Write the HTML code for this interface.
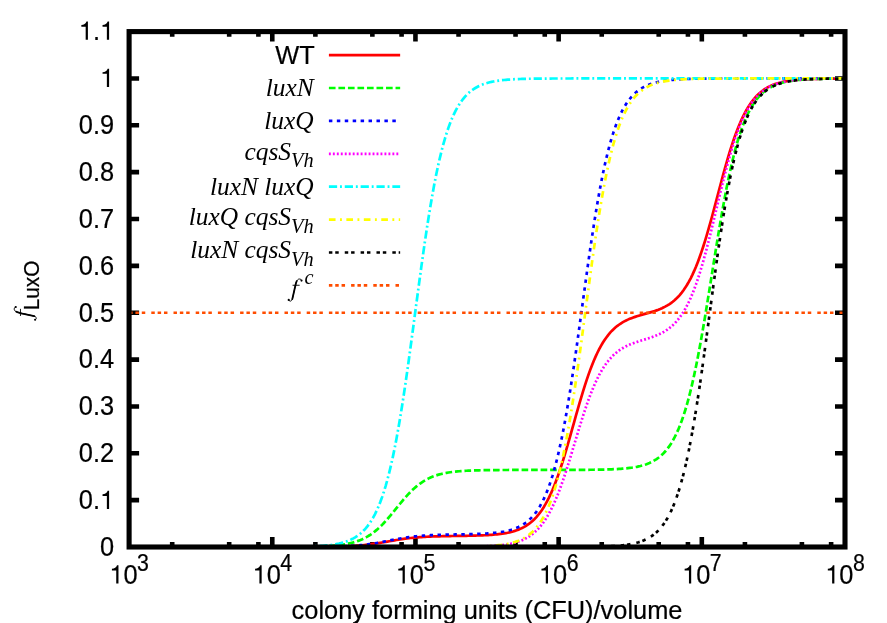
<!DOCTYPE html>
<html><head><meta charset="utf-8"><title>plot</title>
<style>
html,body{margin:0;padding:0;background:#fff;}
svg{display:block;will-change:transform;}
.s{font-family:"Liberation Sans",sans-serif;font-size:25.40px;fill:#000;stroke:#000;stroke-width:0.2px;}
.i{font-family:"Liberation Serif",serif;font-style:italic;font-size:25.40px;fill:#000;}
</style></head><body>
<svg width="887" height="623" viewBox="0 0 887 623">
<rect width="887" height="623" fill="#fff"/>
<path d="M172.20,547.00 V541.90 M172.20,31.60 V36.70 M229.18,547.00 V541.90 M229.18,31.60 V36.70 M258.40,547.00 V541.90 M258.40,31.60 V36.70 M272.28,547.00 V537.00 M272.28,31.60 V41.60 M315.38,547.00 V541.90 M315.38,31.60 V36.70 M372.36,547.00 V541.90 M372.36,31.60 V36.70 M401.58,547.00 V541.90 M401.58,31.60 V36.70 M415.46,547.00 V537.00 M415.46,31.60 V41.60 M458.56,547.00 V541.90 M458.56,31.60 V36.70 M515.54,547.00 V541.90 M515.54,31.60 V36.70 M544.76,547.00 V541.90 M544.76,31.60 V36.70 M558.64,547.00 V537.00 M558.64,31.60 V41.60 M601.74,547.00 V541.90 M601.74,31.60 V36.70 M658.72,547.00 V541.90 M658.72,31.60 V36.70 M687.94,547.00 V541.90 M687.94,31.60 V36.70 M701.82,547.00 V537.00 M701.82,31.60 V41.60 M744.92,547.00 V541.90 M744.92,31.60 V36.70 M801.90,547.00 V541.90 M801.90,31.60 V36.70 M831.12,547.00 V541.90 M831.12,31.60 V36.70 M129.10,500.15 H139.10 M845.00,500.15 H835.00 M129.10,453.29 H139.10 M845.00,453.29 H835.00 M129.10,406.44 H139.10 M845.00,406.44 H835.00 M129.10,359.58 H139.10 M845.00,359.58 H835.00 M129.10,312.73 H139.10 M845.00,312.73 H835.00 M129.10,265.87 H139.10 M845.00,265.87 H835.00 M129.10,219.02 H139.10 M845.00,219.02 H835.00 M129.10,172.16 H139.10 M845.00,172.16 H835.00 M129.10,125.31 H139.10 M845.00,125.31 H835.00 M129.10,78.45 H139.10 M845.00,78.45 H835.00" stroke="#000" stroke-width="4.6" fill="none"/>
<g fill="none" stroke-width="2.70">
<path d="M129.10,547.00 L130.89,547.00 L132.69,547.00 L134.48,547.00 L136.28,547.00 L138.07,547.00 L139.87,547.00 L141.66,547.00 L143.45,547.00 L145.25,547.00 L147.04,547.00 L148.84,547.00 L150.63,547.00 L152.43,547.00 L154.22,547.00 L156.01,547.00 L157.81,547.00 L159.60,547.00 L161.40,547.00 L163.19,547.00 L164.98,547.00 L166.78,547.00 L168.57,547.00 L170.37,547.00 L172.16,547.00 L173.96,547.00 L175.75,547.00 L177.54,547.00 L179.34,547.00 L181.13,547.00 L182.93,547.00 L184.72,547.00 L186.52,547.00 L188.31,547.00 L190.10,547.00 L191.90,547.00 L193.69,547.00 L195.49,547.00 L197.28,547.00 L199.08,547.00 L200.87,547.00 L202.66,547.00 L204.46,547.00 L206.25,547.00 L208.05,547.00 L209.84,547.00 L211.63,547.00 L213.43,547.00 L215.22,547.00 L217.02,547.00 L218.81,547.00 L220.61,547.00 L222.40,547.00 L224.19,547.00 L225.99,547.00 L227.78,547.00 L229.58,547.00 L231.37,547.00 L233.17,547.00 L234.96,547.00 L236.75,547.00 L238.55,547.00 L240.34,547.00 L242.14,547.00 L243.93,547.00 L245.73,547.00 L247.52,547.00 L249.31,547.00 L251.11,547.00 L252.90,547.00 L254.70,547.00 L256.49,547.00 L258.28,547.00 L260.08,547.00 L261.87,547.00 L263.67,547.00 L265.46,547.00 L267.26,547.00 L269.05,546.99 L270.84,546.99 L272.64,546.99 L274.43,546.99 L276.23,546.99 L278.02,546.99 L279.82,546.99 L281.61,546.99 L283.40,546.99 L285.20,546.99 L286.99,546.98 L288.79,546.98 L290.58,546.98 L292.38,546.98 L294.17,546.97 L295.96,546.97 L297.76,546.97 L299.55,546.96 L301.35,546.96 L303.14,546.95 L304.94,546.95 L306.73,546.94 L308.52,546.93 L310.32,546.93 L312.11,546.92 L313.91,546.91 L315.70,546.90 L317.49,546.88 L319.29,546.87 L321.08,546.85 L322.88,546.84 L324.67,546.82 L326.47,546.80 L328.26,546.77 L330.05,546.74 L331.85,546.71 L333.64,546.68 L335.44,546.64 L337.23,546.60 L339.03,546.55 L340.82,546.50 L342.61,546.44 L344.41,546.38 L346.20,546.30 L348.00,546.23 L349.79,546.14 L351.59,546.04 L353.38,545.94 L355.17,545.82 L356.97,545.69 L358.76,545.55 L360.56,545.40 L362.35,545.24 L364.14,545.06 L365.94,544.87 L367.73,544.66 L369.53,544.44 L371.32,544.21 L373.12,543.96 L374.91,543.70 L376.70,543.42 L378.50,543.14 L380.29,542.85 L382.09,542.54 L383.88,542.23 L385.68,541.92 L387.47,541.60 L389.26,541.28 L391.06,540.96 L392.85,540.64 L394.65,540.34 L396.44,540.03 L398.24,539.74 L400.03,539.46 L401.82,539.18 L403.62,538.93 L405.41,538.68 L407.21,538.45 L409.00,538.23 L410.79,538.03 L412.59,537.84 L414.38,537.66 L416.18,537.50 L417.97,537.35 L419.77,537.21 L421.56,537.08 L423.35,536.97 L425.15,536.86 L426.94,536.76 L428.74,536.68 L430.53,536.60 L432.33,536.52 L434.12,536.46 L435.91,536.39 L437.71,536.34 L439.50,536.29 L441.30,536.24 L443.09,536.20 L444.89,536.16 L446.68,536.12 L448.47,536.09 L450.27,536.06 L452.06,536.02 L453.86,535.99 L455.65,535.96 L457.45,535.93 L459.24,535.91 L461.03,535.88 L462.83,535.84 L464.62,535.81 L466.42,535.78 L468.21,535.74 L470.00,535.71 L471.80,535.66 L473.59,535.62 L475.39,535.57 L477.18,535.52 L478.98,535.46 L480.77,535.39 L482.56,535.32 L484.36,535.24 L486.15,535.14 L487.95,535.04 L489.74,534.93 L491.54,534.81 L493.33,534.66 L495.12,534.51 L496.92,534.33 L498.71,534.13 L500.51,533.91 L502.30,533.67 L504.10,533.39 L505.89,533.08 L507.68,532.74 L509.48,532.35 L511.27,531.92 L513.07,531.44 L514.86,530.90 L516.65,530.29 L518.45,529.62 L520.24,528.88 L522.04,528.04 L523.83,527.11 L525.63,526.08 L527.42,524.94 L529.21,523.66 L531.01,522.25 L532.80,520.70 L534.60,518.97 L536.39,517.07 L538.19,514.98 L539.98,512.69 L541.77,510.17 L543.57,507.43 L545.36,504.43 L547.16,501.18 L548.95,497.66 L550.75,493.87 L552.54,489.79 L554.33,485.43 L556.13,480.79 L557.92,475.86 L559.72,470.67 L561.51,465.23 L563.31,459.56 L565.10,453.67 L566.89,447.61 L568.69,441.41 L570.48,435.09 L572.28,428.71 L574.07,422.30 L575.86,415.91 L577.66,409.58 L579.45,403.35 L581.25,397.26 L583.04,391.34 L584.84,385.62 L586.63,380.12 L588.42,374.88 L590.22,369.90 L592.01,365.20 L593.81,360.77 L595.60,356.63 L597.40,352.77 L599.19,349.19 L600.98,345.88 L602.78,342.82 L604.57,340.01 L606.37,337.44 L608.16,335.08 L609.96,332.93 L611.75,330.96 L613.54,329.18 L615.34,327.55 L617.13,326.08 L618.93,324.73 L620.72,323.52 L622.51,322.41 L624.31,321.40 L626.10,320.47 L627.90,319.63 L629.69,318.86 L631.49,318.14 L633.28,317.48 L635.07,316.86 L636.87,316.27 L638.66,315.72 L640.46,315.19 L642.25,314.67 L644.05,314.17 L645.84,313.67 L647.63,313.16 L649.43,312.64 L651.22,312.11 L653.02,311.56 L654.81,310.97 L656.61,310.35 L658.40,309.69 L660.19,308.97 L661.99,308.19 L663.78,307.34 L665.58,306.42 L667.37,305.40 L669.16,304.29 L670.96,303.06 L672.75,301.71 L674.55,300.22 L676.34,298.58 L678.14,296.78 L679.93,294.79 L681.72,292.61 L683.52,290.23 L685.31,287.61 L687.11,284.76 L688.90,281.65 L690.70,278.28 L692.49,274.62 L694.28,270.67 L696.08,266.43 L697.87,261.89 L699.67,257.05 L701.46,251.91 L703.26,246.49 L705.05,240.79 L706.84,234.85 L708.64,228.67 L710.43,222.29 L712.23,215.75 L714.02,209.08 L715.82,202.33 L717.61,195.54 L719.40,188.75 L721.20,182.02 L722.99,175.37 L724.79,168.86 L726.58,162.53 L728.37,156.39 L730.17,150.50 L731.96,144.86 L733.76,139.50 L735.55,134.42 L737.35,129.65 L739.14,125.18 L740.93,121.00 L742.73,117.13 L744.52,113.54 L746.32,110.23 L748.11,107.19 L749.91,104.40 L751.70,101.85 L753.49,99.53 L755.29,97.42 L757.08,95.50 L758.88,93.76 L760.67,92.19 L762.47,90.77 L764.26,89.49 L766.05,88.34 L767.85,87.30 L769.64,86.37 L771.44,85.53 L773.23,84.78 L775.02,84.11 L776.82,83.51 L778.61,82.97 L780.41,82.48 L782.20,82.05 L784.00,81.66 L785.79,81.32 L787.58,81.01 L789.38,80.73 L791.17,80.49 L792.97,80.27 L794.76,80.07 L796.56,79.90 L798.35,79.74 L800.14,79.60 L801.94,79.48 L803.73,79.37 L805.53,79.27 L807.32,79.18 L809.12,79.10 L810.91,79.03 L812.70,78.97 L814.50,78.91 L816.29,78.86 L818.09,78.82 L819.88,78.78 L821.67,78.74 L823.47,78.71 L825.26,78.68 L827.06,78.66 L828.85,78.64 L830.65,78.62 L832.44,78.60 L834.23,78.58 L836.03,78.57 L837.82,78.56 L839.62,78.55 L841.41,78.54 L843.21,78.53 L845.00,78.52" stroke="#ff0000"/>
<path d="M328.9,55.10 H400.15" stroke="#ff0000"/>
<path d="M129.10,547.00 L130.89,547.00 L132.69,547.00 L134.48,547.00 L136.28,547.00 L138.07,547.00 L139.87,547.00 L141.66,547.00 L143.45,547.00 L145.25,547.00 L147.04,547.00 L148.84,547.00 L150.63,547.00 L152.43,547.00 L154.22,547.00 L156.01,547.00 L157.81,547.00 L159.60,547.00 L161.40,547.00 L163.19,547.00 L164.98,547.00 L166.78,547.00 L168.57,547.00 L170.37,547.00 L172.16,547.00 L173.96,547.00 L175.75,547.00 L177.54,547.00 L179.34,547.00 L181.13,547.00 L182.93,547.00 L184.72,547.00 L186.52,547.00 L188.31,547.00 L190.10,547.00 L191.90,547.00 L193.69,547.00 L195.49,547.00 L197.28,547.00 L199.08,547.00 L200.87,547.00 L202.66,547.00 L204.46,547.00 L206.25,547.00 L208.05,547.00 L209.84,547.00 L211.63,547.00 L213.43,547.00 L215.22,547.00 L217.02,547.00 L218.81,547.00 L220.61,547.00 L222.40,547.00 L224.19,547.00 L225.99,547.00 L227.78,547.00 L229.58,547.00 L231.37,547.00 L233.17,547.00 L234.96,547.00 L236.75,547.00 L238.55,547.00 L240.34,547.00 L242.14,547.00 L243.93,547.00 L245.73,547.00 L247.52,546.99 L249.31,546.99 L251.11,546.99 L252.90,546.99 L254.70,546.99 L256.49,546.99 L258.28,546.99 L260.08,546.99 L261.87,546.99 L263.67,546.98 L265.46,546.98 L267.26,546.98 L269.05,546.98 L270.84,546.98 L272.64,546.97 L274.43,546.97 L276.23,546.97 L278.02,546.96 L279.82,546.96 L281.61,546.95 L283.40,546.95 L285.20,546.94 L286.99,546.93 L288.79,546.92 L290.58,546.91 L292.38,546.90 L294.17,546.89 L295.96,546.88 L297.76,546.86 L299.55,546.85 L301.35,546.83 L303.14,546.81 L304.94,546.78 L306.73,546.76 L308.52,546.73 L310.32,546.69 L312.11,546.66 L313.91,546.61 L315.70,546.57 L317.49,546.52 L319.29,546.46 L321.08,546.39 L322.88,546.32 L324.67,546.23 L326.47,546.14 L328.26,546.04 L330.05,545.92 L331.85,545.79 L333.64,545.65 L335.44,545.48 L337.23,545.30 L339.03,545.10 L340.82,544.87 L342.61,544.62 L344.41,544.34 L346.20,544.03 L348.00,543.68 L349.79,543.29 L351.59,542.87 L353.38,542.39 L355.17,541.86 L356.97,541.28 L358.76,540.64 L360.56,539.93 L362.35,539.16 L364.14,538.30 L365.94,537.37 L367.73,536.36 L369.53,535.25 L371.32,534.06 L373.12,532.77 L374.91,531.38 L376.70,529.89 L378.50,528.31 L380.29,526.63 L382.09,524.85 L383.88,522.98 L385.68,521.03 L387.47,519.01 L389.26,516.92 L391.06,514.78 L392.85,512.60 L394.65,510.39 L396.44,508.17 L398.24,505.95 L400.03,503.74 L401.82,501.57 L403.62,499.44 L405.41,497.37 L407.21,495.37 L409.00,493.44 L410.79,491.60 L412.59,489.84 L414.38,488.19 L416.18,486.63 L417.97,485.17 L419.77,483.80 L421.56,482.54 L423.35,481.37 L425.15,480.29 L426.94,479.29 L428.74,478.39 L430.53,477.55 L432.33,476.80 L434.12,476.11 L435.91,475.48 L437.71,474.91 L439.50,474.40 L441.30,473.94 L443.09,473.52 L444.89,473.15 L446.68,472.81 L448.47,472.50 L450.27,472.23 L452.06,471.99 L453.86,471.77 L455.65,471.57 L457.45,471.39 L459.24,471.24 L461.03,471.09 L462.83,470.97 L464.62,470.86 L466.42,470.76 L468.21,470.67 L470.00,470.58 L471.80,470.51 L473.59,470.45 L475.39,470.39 L477.18,470.34 L478.98,470.30 L480.77,470.26 L482.56,470.22 L484.36,470.19 L486.15,470.16 L487.95,470.13 L489.74,470.11 L491.54,470.09 L493.33,470.07 L495.12,470.05 L496.92,470.04 L498.71,470.03 L500.51,470.02 L502.30,470.01 L504.10,470.00 L505.89,469.99 L507.68,469.98 L509.48,469.97 L511.27,469.97 L513.07,469.96 L514.86,469.96 L516.65,469.95 L518.45,469.95 L520.24,469.95 L522.04,469.94 L523.83,469.94 L525.63,469.94 L527.42,469.94 L529.21,469.93 L531.01,469.93 L532.80,469.93 L534.60,469.93 L536.39,469.93 L538.19,469.92 L539.98,469.92 L541.77,469.92 L543.57,469.92 L545.36,469.92 L547.16,469.92 L548.95,469.92 L550.75,469.91 L552.54,469.91 L554.33,469.91 L556.13,469.91 L557.92,469.90 L559.72,469.90 L561.51,469.90 L563.31,469.90 L565.10,469.89 L566.89,469.89 L568.69,469.88 L570.48,469.88 L572.28,469.87 L574.07,469.87 L575.86,469.86 L577.66,469.85 L579.45,469.84 L581.25,469.84 L583.04,469.82 L584.84,469.81 L586.63,469.80 L588.42,469.78 L590.22,469.77 L592.01,469.75 L593.81,469.73 L595.60,469.70 L597.40,469.67 L599.19,469.64 L600.98,469.61 L602.78,469.57 L604.57,469.53 L606.37,469.48 L608.16,469.43 L609.96,469.37 L611.75,469.30 L613.54,469.22 L615.34,469.14 L617.13,469.04 L618.93,468.94 L620.72,468.82 L622.51,468.68 L624.31,468.53 L626.10,468.36 L627.90,468.17 L629.69,467.96 L631.49,467.72 L633.28,467.45 L635.07,467.15 L636.87,466.81 L638.66,466.43 L640.46,466.01 L642.25,465.54 L644.05,465.01 L645.84,464.42 L647.63,463.75 L649.43,463.01 L651.22,462.18 L653.02,461.26 L654.81,460.22 L656.61,459.07 L658.40,457.78 L660.19,456.35 L661.99,454.75 L663.78,452.98 L665.58,451.00 L667.37,448.81 L669.16,446.38 L670.96,443.70 L672.75,440.73 L674.55,437.45 L676.34,433.85 L678.14,429.89 L679.93,425.54 L681.72,420.79 L683.52,415.62 L685.31,409.99 L687.11,403.90 L688.90,397.32 L690.70,390.24 L692.49,382.67 L694.28,374.59 L696.08,366.02 L697.87,356.98 L699.67,347.48 L701.46,337.57 L703.26,327.28 L705.05,316.66 L706.84,305.77 L708.64,294.68 L710.43,283.45 L712.23,272.16 L714.02,260.89 L715.82,249.70 L717.61,238.67 L719.40,227.87 L721.20,217.36 L722.99,207.20 L724.79,197.43 L726.58,188.10 L728.37,179.22 L730.17,170.83 L731.96,162.93 L733.76,155.54 L735.55,148.64 L737.35,142.24 L739.14,136.31 L740.93,130.85 L742.73,125.83 L744.52,121.23 L746.32,117.03 L748.11,113.19 L749.91,109.71 L751.70,106.55 L753.49,103.68 L755.29,101.09 L757.08,98.75 L758.88,96.64 L760.67,94.74 L762.47,93.03 L764.26,91.50 L766.05,90.12 L767.85,88.88 L769.64,87.77 L771.44,86.78 L773.23,85.89 L775.02,85.09 L776.82,84.38 L778.61,83.74 L780.41,83.17 L782.20,82.66 L784.00,82.21 L785.79,81.80 L787.58,81.44 L789.38,81.12 L791.17,80.83 L792.97,80.57 L794.76,80.34 L796.56,80.14 L798.35,79.95 L800.14,79.79 L801.94,79.65 L803.73,79.52 L805.53,79.40 L807.32,79.30 L809.12,79.21 L810.91,79.12 L812.70,79.05 L814.50,78.99 L816.29,78.93 L818.09,78.88 L819.88,78.83 L821.67,78.79 L823.47,78.75 L825.26,78.72 L827.06,78.69 L828.85,78.67 L830.65,78.64 L832.44,78.62 L834.23,78.60 L836.03,78.59 L837.82,78.57 L839.62,78.56 L841.41,78.55 L843.21,78.54 L845.00,78.53" stroke="#00ff00" stroke-dasharray="6.65,2.87"/>
<path d="M328.9,88.00 H400.15" stroke="#00ff00" stroke-dasharray="6.65,2.87"/>
<path d="M129.10,547.00 L130.89,547.00 L132.69,547.00 L134.48,547.00 L136.28,547.00 L138.07,547.00 L139.87,547.00 L141.66,547.00 L143.45,547.00 L145.25,547.00 L147.04,547.00 L148.84,547.00 L150.63,547.00 L152.43,547.00 L154.22,547.00 L156.01,547.00 L157.81,547.00 L159.60,547.00 L161.40,547.00 L163.19,547.00 L164.98,547.00 L166.78,547.00 L168.57,547.00 L170.37,547.00 L172.16,547.00 L173.96,547.00 L175.75,547.00 L177.54,547.00 L179.34,547.00 L181.13,547.00 L182.93,547.00 L184.72,547.00 L186.52,547.00 L188.31,547.00 L190.10,547.00 L191.90,547.00 L193.69,547.00 L195.49,547.00 L197.28,547.00 L199.08,547.00 L200.87,547.00 L202.66,547.00 L204.46,547.00 L206.25,547.00 L208.05,547.00 L209.84,547.00 L211.63,547.00 L213.43,547.00 L215.22,547.00 L217.02,547.00 L218.81,547.00 L220.61,547.00 L222.40,547.00 L224.19,547.00 L225.99,547.00 L227.78,547.00 L229.58,547.00 L231.37,547.00 L233.17,547.00 L234.96,547.00 L236.75,547.00 L238.55,547.00 L240.34,547.00 L242.14,547.00 L243.93,547.00 L245.73,547.00 L247.52,547.00 L249.31,547.00 L251.11,547.00 L252.90,547.00 L254.70,547.00 L256.49,547.00 L258.28,547.00 L260.08,547.00 L261.87,547.00 L263.67,547.00 L265.46,547.00 L267.26,546.99 L269.05,546.99 L270.84,546.99 L272.64,546.99 L274.43,546.99 L276.23,546.99 L278.02,546.99 L279.82,546.99 L281.61,546.99 L283.40,546.99 L285.20,546.98 L286.99,546.98 L288.79,546.98 L290.58,546.98 L292.38,546.97 L294.17,546.97 L295.96,546.97 L297.76,546.96 L299.55,546.96 L301.35,546.95 L303.14,546.95 L304.94,546.94 L306.73,546.93 L308.52,546.93 L310.32,546.92 L312.11,546.91 L313.91,546.90 L315.70,546.88 L317.49,546.87 L319.29,546.85 L321.08,546.84 L322.88,546.82 L324.67,546.80 L326.47,546.77 L328.26,546.74 L330.05,546.71 L331.85,546.68 L333.64,546.64 L335.44,546.60 L337.23,546.55 L339.03,546.50 L340.82,546.44 L342.61,546.37 L344.41,546.30 L346.20,546.22 L348.00,546.13 L349.79,546.03 L351.59,545.93 L353.38,545.81 L355.17,545.68 L356.97,545.53 L358.76,545.38 L360.56,545.21 L362.35,545.02 L364.14,544.82 L365.94,544.61 L367.73,544.37 L369.53,544.13 L371.32,543.86 L373.12,543.58 L374.91,543.29 L376.70,542.98 L378.50,542.66 L380.29,542.32 L382.09,541.98 L383.88,541.63 L385.68,541.27 L387.47,540.91 L389.26,540.55 L391.06,540.18 L392.85,539.83 L394.65,539.47 L396.44,539.13 L398.24,538.79 L400.03,538.47 L401.82,538.16 L403.62,537.86 L405.41,537.58 L407.21,537.32 L409.00,537.07 L410.79,536.83 L412.59,536.61 L414.38,536.41 L416.18,536.23 L417.97,536.05 L419.77,535.89 L421.56,535.75 L423.35,535.61 L425.15,535.49 L426.94,535.38 L428.74,535.28 L430.53,535.19 L432.33,535.10 L434.12,535.03 L435.91,534.96 L437.71,534.89 L439.50,534.83 L441.30,534.78 L443.09,534.73 L444.89,534.69 L446.68,534.64 L448.47,534.60 L450.27,534.57 L452.06,534.53 L453.86,534.49 L455.65,534.46 L457.45,534.43 L459.24,534.39 L461.03,534.36 L462.83,534.32 L464.62,534.28 L466.42,534.25 L468.21,534.20 L470.00,534.16 L471.80,534.11 L473.59,534.06 L475.39,534.00 L477.18,533.94 L478.98,533.87 L480.77,533.79 L482.56,533.71 L484.36,533.61 L486.15,533.51 L487.95,533.39 L489.74,533.26 L491.54,533.11 L493.33,532.95 L495.12,532.76 L496.92,532.56 L498.71,532.33 L500.51,532.07 L502.30,531.78 L504.10,531.46 L505.89,531.10 L507.68,530.69 L509.48,530.24 L511.27,529.73 L513.07,529.16 L514.86,528.52 L516.65,527.81 L518.45,527.01 L520.24,526.12 L522.04,525.12 L523.83,524.01 L525.63,522.76 L527.42,521.38 L529.21,519.83 L531.01,518.11 L532.80,516.19 L534.60,514.06 L536.39,511.69 L538.19,509.07 L539.98,506.15 L541.77,502.93 L543.57,499.38 L545.36,495.46 L547.16,491.14 L548.95,486.40 L550.75,481.21 L552.54,475.54 L554.33,469.37 L556.13,462.66 L557.92,455.40 L559.72,447.57 L561.51,439.17 L563.31,430.18 L565.10,420.61 L566.89,410.47 L568.69,399.78 L570.48,388.58 L572.28,376.90 L574.07,364.80 L575.86,352.33 L577.66,339.57 L579.45,326.60 L581.25,313.49 L583.04,300.34 L584.84,287.23 L586.63,274.24 L588.42,261.47 L590.22,248.98 L592.01,236.85 L593.81,225.13 L595.60,213.89 L597.40,203.17 L599.19,192.99 L600.98,183.38 L602.78,174.34 L604.57,165.90 L606.37,158.03 L608.16,150.73 L609.96,143.98 L611.75,137.77 L613.54,132.06 L615.34,126.84 L617.13,122.07 L618.93,117.73 L620.72,113.78 L622.51,110.19 L624.31,106.95 L626.10,104.02 L627.90,101.37 L629.69,98.99 L631.49,96.84 L633.28,94.91 L635.07,93.17 L636.87,91.61 L638.66,90.22 L640.46,88.96 L642.25,87.84 L644.05,86.84 L645.84,85.94 L647.63,85.13 L649.43,84.42 L651.22,83.77 L653.02,83.20 L654.81,82.69 L656.61,82.23 L658.40,81.82 L660.19,81.46 L661.99,81.13 L663.78,80.84 L665.58,80.58 L667.37,80.35 L669.16,80.15 L670.96,79.96 L672.75,79.80 L674.55,79.65 L676.34,79.52 L678.14,79.41 L679.93,79.30 L681.72,79.21 L683.52,79.13 L685.31,79.05 L687.11,78.99 L688.90,78.93 L690.70,78.88 L692.49,78.83 L694.28,78.79 L696.08,78.75 L697.87,78.72 L699.67,78.69 L701.46,78.67 L703.26,78.64 L705.05,78.62 L706.84,78.60 L708.64,78.59 L710.43,78.57 L712.23,78.56 L714.02,78.55 L715.82,78.54 L717.61,78.53 L719.40,78.52 L721.20,78.51 L722.99,78.51 L724.79,78.50 L726.58,78.50 L728.37,78.49 L730.17,78.49 L731.96,78.48 L733.76,78.48 L735.55,78.48 L737.35,78.48 L739.14,78.47 L740.93,78.47 L742.73,78.47 L744.52,78.47 L746.32,78.47 L748.11,78.47 L749.91,78.46 L751.70,78.46 L753.49,78.46 L755.29,78.46 L757.08,78.46 L758.88,78.46 L760.67,78.46 L762.47,78.46 L764.26,78.46 L766.05,78.46 L767.85,78.46 L769.64,78.46 L771.44,78.46 L773.23,78.46 L775.02,78.46 L776.82,78.46 L778.61,78.46 L780.41,78.46 L782.20,78.46 L784.00,78.46 L785.79,78.46 L787.58,78.46 L789.38,78.46 L791.17,78.46 L792.97,78.46 L794.76,78.46 L796.56,78.46 L798.35,78.45 L800.14,78.45 L801.94,78.45 L803.73,78.45 L805.53,78.45 L807.32,78.45 L809.12,78.45 L810.91,78.45 L812.70,78.45 L814.50,78.45 L816.29,78.45 L818.09,78.45 L819.88,78.45 L821.67,78.45 L823.47,78.45 L825.26,78.45 L827.06,78.45 L828.85,78.45 L830.65,78.45 L832.44,78.45 L834.23,78.45 L836.03,78.45 L837.82,78.45 L839.62,78.45 L841.41,78.45 L843.21,78.45 L845.00,78.45" stroke="#0000ff" stroke-dasharray="3.47,4.46"/>
<path d="M328.9,120.90 H400.15" stroke="#0000ff" stroke-dasharray="3.47,4.46"/>
<path d="M129.10,547.00 L130.89,547.00 L132.69,547.00 L134.48,547.00 L136.28,547.00 L138.07,547.00 L139.87,547.00 L141.66,547.00 L143.45,547.00 L145.25,547.00 L147.04,547.00 L148.84,547.00 L150.63,547.00 L152.43,547.00 L154.22,547.00 L156.01,547.00 L157.81,547.00 L159.60,547.00 L161.40,547.00 L163.19,547.00 L164.98,547.00 L166.78,547.00 L168.57,547.00 L170.37,547.00 L172.16,547.00 L173.96,547.00 L175.75,547.00 L177.54,547.00 L179.34,547.00 L181.13,547.00 L182.93,547.00 L184.72,547.00 L186.52,547.00 L188.31,547.00 L190.10,547.00 L191.90,547.00 L193.69,547.00 L195.49,547.00 L197.28,547.00 L199.08,547.00 L200.87,547.00 L202.66,547.00 L204.46,547.00 L206.25,547.00 L208.05,547.00 L209.84,547.00 L211.63,547.00 L213.43,547.00 L215.22,547.00 L217.02,547.00 L218.81,547.00 L220.61,547.00 L222.40,547.00 L224.19,547.00 L225.99,547.00 L227.78,547.00 L229.58,547.00 L231.37,547.00 L233.17,547.00 L234.96,547.00 L236.75,547.00 L238.55,547.00 L240.34,547.00 L242.14,547.00 L243.93,547.00 L245.73,547.00 L247.52,547.00 L249.31,547.00 L251.11,547.00 L252.90,547.00 L254.70,547.00 L256.49,547.00 L258.28,547.00 L260.08,547.00 L261.87,547.00 L263.67,547.00 L265.46,547.00 L267.26,547.00 L269.05,547.00 L270.84,547.00 L272.64,547.00 L274.43,547.00 L276.23,547.00 L278.02,547.00 L279.82,547.00 L281.61,547.00 L283.40,547.00 L285.20,547.00 L286.99,547.00 L288.79,547.00 L290.58,547.00 L292.38,547.00 L294.17,547.00 L295.96,547.00 L297.76,547.00 L299.55,547.00 L301.35,547.00 L303.14,547.00 L304.94,547.00 L306.73,547.00 L308.52,547.00 L310.32,547.00 L312.11,547.00 L313.91,547.00 L315.70,547.00 L317.49,547.00 L319.29,547.00 L321.08,547.00 L322.88,547.00 L324.67,547.00 L326.47,547.00 L328.26,547.00 L330.05,547.00 L331.85,547.00 L333.64,547.00 L335.44,547.00 L337.23,547.00 L339.03,547.00 L340.82,547.00 L342.61,547.00 L344.41,547.00 L346.20,547.00 L348.00,547.00 L349.79,547.00 L351.59,547.00 L353.38,547.00 L355.17,547.00 L356.97,547.00 L358.76,547.00 L360.56,547.00 L362.35,547.00 L364.14,547.00 L365.94,547.00 L367.73,547.00 L369.53,547.00 L371.32,547.00 L373.12,547.00 L374.91,547.00 L376.70,547.00 L378.50,547.00 L380.29,547.00 L382.09,547.00 L383.88,547.00 L385.68,547.00 L387.47,547.00 L389.26,547.00 L391.06,547.00 L392.85,547.00 L394.65,547.00 L396.44,547.00 L398.24,547.00 L400.03,547.00 L401.82,547.00 L403.62,547.00 L405.41,547.00 L407.21,547.00 L409.00,547.00 L410.79,546.99 L412.59,546.99 L414.38,546.99 L416.18,546.99 L417.97,546.99 L419.77,546.99 L421.56,546.99 L423.35,546.99 L425.15,546.99 L426.94,546.98 L428.74,546.98 L430.53,546.98 L432.33,546.98 L434.12,546.98 L435.91,546.97 L437.71,546.97 L439.50,546.97 L441.30,546.96 L443.09,546.96 L444.89,546.95 L446.68,546.94 L448.47,546.94 L450.27,546.93 L452.06,546.92 L453.86,546.91 L455.65,546.90 L457.45,546.89 L459.24,546.88 L461.03,546.86 L462.83,546.84 L464.62,546.82 L466.42,546.80 L468.21,546.78 L470.00,546.75 L471.80,546.72 L473.59,546.69 L475.39,546.65 L477.18,546.61 L478.98,546.56 L480.77,546.51 L482.56,546.44 L484.36,546.38 L486.15,546.30 L487.95,546.22 L489.74,546.12 L491.54,546.01 L493.33,545.89 L495.12,545.76 L496.92,545.61 L498.71,545.44 L500.51,545.25 L502.30,545.04 L504.10,544.80 L505.89,544.53 L507.68,544.24 L509.48,543.90 L511.27,543.53 L513.07,543.11 L514.86,542.65 L516.65,542.13 L518.45,541.55 L520.24,540.90 L522.04,540.18 L523.83,539.38 L525.63,538.48 L527.42,537.49 L529.21,536.38 L531.01,535.16 L532.80,533.80 L534.60,532.30 L536.39,530.65 L538.19,528.82 L539.98,526.81 L541.77,524.61 L543.57,522.20 L545.36,519.56 L547.16,516.70 L548.95,513.59 L550.75,510.23 L552.54,506.60 L554.33,502.72 L556.13,498.57 L557.92,494.15 L559.72,489.48 L561.51,484.56 L563.31,479.41 L565.10,474.06 L566.89,468.51 L568.69,462.81 L570.48,456.98 L572.28,451.06 L574.07,445.09 L575.86,439.11 L577.66,433.16 L579.45,427.28 L581.25,421.49 L583.04,415.85 L584.84,410.38 L586.63,405.10 L588.42,400.04 L590.22,395.22 L592.01,390.64 L593.81,386.33 L595.60,382.28 L597.40,378.49 L599.19,374.96 L600.98,371.69 L602.78,368.67 L604.57,365.88 L606.37,363.32 L608.16,360.97 L609.96,358.82 L611.75,356.86 L613.54,355.07 L615.34,353.44 L617.13,351.95 L618.93,350.60 L620.72,349.36 L622.51,348.24 L624.31,347.21 L626.10,346.27 L627.90,345.41 L629.69,344.61 L631.49,343.87 L633.28,343.19 L635.07,342.54 L636.87,341.93 L638.66,341.34 L640.46,340.77 L642.25,340.21 L644.05,339.66 L645.84,339.11 L647.63,338.55 L649.43,337.97 L651.22,337.37 L653.02,336.74 L654.81,336.08 L656.61,335.36 L658.40,334.59 L660.19,333.76 L661.99,332.86 L663.78,331.87 L665.58,330.78 L667.37,329.59 L669.16,328.28 L670.96,326.84 L672.75,325.26 L674.55,323.51 L676.34,321.58 L678.14,319.47 L679.93,317.14 L681.72,314.59 L683.52,311.79 L685.31,308.74 L687.11,305.40 L688.90,301.78 L690.70,297.85 L692.49,293.61 L694.28,289.03 L696.08,284.13 L697.87,278.89 L699.67,273.32 L701.46,267.43 L703.26,261.23 L705.05,254.74 L706.84,247.99 L708.64,240.99 L710.43,233.80 L712.23,226.46 L714.02,219.00 L715.82,211.47 L717.61,203.93 L719.40,196.43 L721.20,189.00 L722.99,181.71 L724.79,174.60 L726.58,167.70 L728.37,161.04 L730.17,154.66 L731.96,148.59 L733.76,142.82 L735.55,137.39 L737.35,132.29 L739.14,127.52 L740.93,123.09 L742.73,118.97 L744.52,115.18 L746.32,111.68 L748.11,108.48 L749.91,105.54 L751.70,102.87 L753.49,100.43 L755.29,98.22 L757.08,96.21 L758.88,94.39 L760.67,92.75 L762.47,91.27 L764.26,89.93 L766.05,88.73 L767.85,87.65 L769.64,86.68 L771.44,85.81 L773.23,85.03 L775.02,84.33 L776.82,83.70 L778.61,83.14 L780.41,82.63 L782.20,82.19 L784.00,81.78 L785.79,81.43 L787.58,81.10 L789.38,80.82 L791.17,80.56 L792.97,80.33 L794.76,80.13 L796.56,79.95 L798.35,79.79 L800.14,79.64 L801.94,79.51 L803.73,79.40 L805.53,79.30 L807.32,79.20 L809.12,79.12 L810.91,79.05 L812.70,78.99 L814.50,78.93 L816.29,78.88 L818.09,78.83 L819.88,78.79 L821.67,78.75 L823.47,78.72 L825.26,78.69 L827.06,78.67 L828.85,78.64 L830.65,78.62 L832.44,78.60 L834.23,78.59 L836.03,78.57 L837.82,78.56 L839.62,78.55 L841.41,78.54 L843.21,78.53 L845.00,78.52" stroke="#ff00ff" stroke-dasharray="1.89,2.08"/>
<path d="M328.9,153.80 H400.15" stroke="#ff00ff" stroke-dasharray="1.89,2.08"/>
<path d="M129.10,547.00 L130.89,547.00 L132.69,547.00 L134.48,547.00 L136.28,547.00 L138.07,547.00 L139.87,547.00 L141.66,547.00 L143.45,547.00 L145.25,547.00 L147.04,547.00 L148.84,547.00 L150.63,547.00 L152.43,547.00 L154.22,547.00 L156.01,547.00 L157.81,547.00 L159.60,547.00 L161.40,547.00 L163.19,547.00 L164.98,547.00 L166.78,547.00 L168.57,547.00 L170.37,547.00 L172.16,547.00 L173.96,547.00 L175.75,547.00 L177.54,547.00 L179.34,547.00 L181.13,547.00 L182.93,547.00 L184.72,547.00 L186.52,547.00 L188.31,547.00 L190.10,547.00 L191.90,547.00 L193.69,547.00 L195.49,547.00 L197.28,547.00 L199.08,547.00 L200.87,547.00 L202.66,547.00 L204.46,547.00 L206.25,547.00 L208.05,547.00 L209.84,547.00 L211.63,547.00 L213.43,547.00 L215.22,547.00 L217.02,547.00 L218.81,547.00 L220.61,547.00 L222.40,547.00 L224.19,547.00 L225.99,547.00 L227.78,547.00 L229.58,547.00 L231.37,547.00 L233.17,547.00 L234.96,547.00 L236.75,547.00 L238.55,546.99 L240.34,546.99 L242.14,546.99 L243.93,546.99 L245.73,546.99 L247.52,546.99 L249.31,546.99 L251.11,546.99 L252.90,546.99 L254.70,546.98 L256.49,546.98 L258.28,546.98 L260.08,546.98 L261.87,546.98 L263.67,546.97 L265.46,546.97 L267.26,546.97 L269.05,546.96 L270.84,546.96 L272.64,546.95 L274.43,546.95 L276.23,546.94 L278.02,546.93 L279.82,546.92 L281.61,546.91 L283.40,546.90 L285.20,546.89 L286.99,546.88 L288.79,546.86 L290.58,546.85 L292.38,546.83 L294.17,546.80 L295.96,546.78 L297.76,546.75 L299.55,546.72 L301.35,546.69 L303.14,546.65 L304.94,546.61 L306.73,546.56 L308.52,546.51 L310.32,546.45 L312.11,546.38 L313.91,546.31 L315.70,546.22 L317.49,546.13 L319.29,546.02 L321.08,545.90 L322.88,545.77 L324.67,545.61 L326.47,545.45 L328.26,545.26 L330.05,545.04 L331.85,544.81 L333.64,544.54 L335.44,544.24 L337.23,543.90 L339.03,543.53 L340.82,543.11 L342.61,542.64 L344.41,542.11 L346.20,541.52 L348.00,540.85 L349.79,540.11 L351.59,539.28 L353.38,538.36 L355.17,537.32 L356.97,536.16 L358.76,534.87 L360.56,533.43 L362.35,531.83 L364.14,530.04 L365.94,528.05 L367.73,525.83 L369.53,523.37 L371.32,520.64 L373.12,517.62 L374.91,514.28 L376.70,510.59 L378.50,506.52 L380.29,502.04 L382.09,497.12 L383.88,491.74 L385.68,485.86 L387.47,479.46 L389.26,472.51 L391.06,465.00 L392.85,456.89 L394.65,448.19 L396.44,438.89 L398.24,429.00 L400.03,418.52 L401.82,407.48 L403.62,395.92 L405.41,383.87 L407.21,371.39 L409.00,358.55 L410.79,345.41 L412.59,332.06 L414.38,318.59 L416.18,305.07 L417.97,291.61 L419.77,278.28 L421.56,265.18 L423.35,252.38 L425.15,239.96 L426.94,227.97 L428.74,216.47 L430.53,205.51 L432.33,195.11 L434.12,185.29 L435.91,176.07 L437.71,167.45 L439.50,159.43 L441.30,151.98 L443.09,145.11 L444.89,138.78 L446.68,132.97 L448.47,127.65 L450.27,122.80 L452.06,118.37 L453.86,114.36 L455.65,110.71 L457.45,107.41 L459.24,104.43 L461.03,101.74 L462.83,99.31 L464.62,97.13 L466.42,95.17 L468.21,93.40 L470.00,91.82 L471.80,90.40 L473.59,89.13 L475.39,87.99 L477.18,86.97 L478.98,86.06 L480.77,85.24 L482.56,84.51 L484.36,83.86 L486.15,83.27 L487.95,82.75 L489.74,82.29 L491.54,81.87 L493.33,81.50 L495.12,81.17 L496.92,80.88 L498.71,80.62 L500.51,80.38 L502.30,80.17 L504.10,79.98 L505.89,79.82 L507.68,79.67 L509.48,79.54 L511.27,79.42 L513.07,79.32 L514.86,79.22 L516.65,79.14 L518.45,79.06 L520.24,79.00 L522.04,78.94 L523.83,78.89 L525.63,78.84 L527.42,78.80 L529.21,78.76 L531.01,78.73 L532.80,78.70 L534.60,78.67 L536.39,78.65 L538.19,78.63 L539.98,78.61 L541.77,78.59 L543.57,78.58 L545.36,78.56 L547.16,78.55 L548.95,78.54 L550.75,78.53 L552.54,78.52 L554.33,78.52 L556.13,78.51 L557.92,78.50 L559.72,78.50 L561.51,78.49 L563.31,78.49 L565.10,78.48 L566.89,78.48 L568.69,78.48 L570.48,78.48 L572.28,78.47 L574.07,78.47 L575.86,78.47 L577.66,78.47 L579.45,78.47 L581.25,78.47 L583.04,78.46 L584.84,78.46 L586.63,78.46 L588.42,78.46 L590.22,78.46 L592.01,78.46 L593.81,78.46 L595.60,78.46 L597.40,78.46 L599.19,78.46 L600.98,78.46 L602.78,78.46 L604.57,78.46 L606.37,78.46 L608.16,78.46 L609.96,78.46 L611.75,78.46 L613.54,78.46 L615.34,78.46 L617.13,78.46 L618.93,78.46 L620.72,78.46 L622.51,78.46 L624.31,78.46 L626.10,78.46 L627.90,78.46 L629.69,78.46 L631.49,78.45 L633.28,78.45 L635.07,78.45 L636.87,78.45 L638.66,78.45 L640.46,78.45 L642.25,78.45 L644.05,78.45 L645.84,78.45 L647.63,78.45 L649.43,78.45 L651.22,78.45 L653.02,78.45 L654.81,78.45 L656.61,78.45 L658.40,78.45 L660.19,78.45 L661.99,78.45 L663.78,78.45 L665.58,78.45 L667.37,78.45 L669.16,78.45 L670.96,78.45 L672.75,78.45 L674.55,78.45 L676.34,78.45 L678.14,78.45 L679.93,78.45 L681.72,78.45 L683.52,78.45 L685.31,78.45 L687.11,78.45 L688.90,78.45 L690.70,78.45 L692.49,78.45 L694.28,78.45 L696.08,78.45 L697.87,78.45 L699.67,78.45 L701.46,78.45 L703.26,78.45 L705.05,78.45 L706.84,78.45 L708.64,78.45 L710.43,78.45 L712.23,78.45 L714.02,78.45 L715.82,78.45 L717.61,78.45 L719.40,78.45 L721.20,78.45 L722.99,78.45 L724.79,78.45 L726.58,78.45 L728.37,78.45 L730.17,78.45 L731.96,78.45 L733.76,78.45 L735.55,78.45 L737.35,78.45 L739.14,78.45 L740.93,78.45 L742.73,78.45 L744.52,78.45 L746.32,78.45 L748.11,78.45 L749.91,78.45 L751.70,78.45 L753.49,78.45 L755.29,78.45 L757.08,78.45 L758.88,78.45 L760.67,78.45 L762.47,78.45 L764.26,78.45 L766.05,78.45 L767.85,78.45 L769.64,78.45 L771.44,78.45 L773.23,78.45 L775.02,78.45 L776.82,78.45 L778.61,78.45 L780.41,78.45 L782.20,78.45 L784.00,78.45 L785.79,78.45 L787.58,78.45 L789.38,78.45 L791.17,78.45 L792.97,78.45 L794.76,78.45 L796.56,78.45 L798.35,78.45 L800.14,78.45 L801.94,78.45 L803.73,78.45 L805.53,78.45 L807.32,78.45 L809.12,78.45 L810.91,78.45 L812.70,78.45 L814.50,78.45 L816.29,78.45 L818.09,78.45 L819.88,78.45 L821.67,78.45 L823.47,78.45 L825.26,78.45 L827.06,78.45 L828.85,78.45 L830.65,78.45 L832.44,78.45 L834.23,78.45 L836.03,78.45 L837.82,78.45 L839.62,78.45 L841.41,78.45 L843.21,78.45 L845.00,78.45" stroke="#00ffff" stroke-dasharray="8.23,2.87,1.89,2.87"/>
<path d="M328.9,186.70 H400.15" stroke="#00ffff" stroke-dasharray="8.23,2.87,1.89,2.87"/>
<path d="M129.10,547.00 L130.89,547.00 L132.69,547.00 L134.48,547.00 L136.28,547.00 L138.07,547.00 L139.87,547.00 L141.66,547.00 L143.45,547.00 L145.25,547.00 L147.04,547.00 L148.84,547.00 L150.63,547.00 L152.43,547.00 L154.22,547.00 L156.01,547.00 L157.81,547.00 L159.60,547.00 L161.40,547.00 L163.19,547.00 L164.98,547.00 L166.78,547.00 L168.57,547.00 L170.37,547.00 L172.16,547.00 L173.96,547.00 L175.75,547.00 L177.54,547.00 L179.34,547.00 L181.13,547.00 L182.93,547.00 L184.72,547.00 L186.52,547.00 L188.31,547.00 L190.10,547.00 L191.90,547.00 L193.69,547.00 L195.49,547.00 L197.28,547.00 L199.08,547.00 L200.87,547.00 L202.66,547.00 L204.46,547.00 L206.25,547.00 L208.05,547.00 L209.84,547.00 L211.63,547.00 L213.43,547.00 L215.22,547.00 L217.02,547.00 L218.81,547.00 L220.61,547.00 L222.40,547.00 L224.19,547.00 L225.99,547.00 L227.78,547.00 L229.58,547.00 L231.37,547.00 L233.17,547.00 L234.96,547.00 L236.75,547.00 L238.55,547.00 L240.34,547.00 L242.14,547.00 L243.93,547.00 L245.73,547.00 L247.52,547.00 L249.31,547.00 L251.11,547.00 L252.90,547.00 L254.70,547.00 L256.49,547.00 L258.28,547.00 L260.08,547.00 L261.87,547.00 L263.67,547.00 L265.46,547.00 L267.26,547.00 L269.05,547.00 L270.84,547.00 L272.64,547.00 L274.43,547.00 L276.23,547.00 L278.02,547.00 L279.82,547.00 L281.61,547.00 L283.40,547.00 L285.20,547.00 L286.99,547.00 L288.79,547.00 L290.58,547.00 L292.38,547.00 L294.17,547.00 L295.96,547.00 L297.76,547.00 L299.55,547.00 L301.35,547.00 L303.14,547.00 L304.94,547.00 L306.73,547.00 L308.52,547.00 L310.32,547.00 L312.11,547.00 L313.91,547.00 L315.70,547.00 L317.49,547.00 L319.29,547.00 L321.08,547.00 L322.88,547.00 L324.67,547.00 L326.47,547.00 L328.26,547.00 L330.05,547.00 L331.85,547.00 L333.64,547.00 L335.44,547.00 L337.23,547.00 L339.03,547.00 L340.82,547.00 L342.61,547.00 L344.41,547.00 L346.20,547.00 L348.00,547.00 L349.79,547.00 L351.59,547.00 L353.38,547.00 L355.17,547.00 L356.97,547.00 L358.76,547.00 L360.56,547.00 L362.35,547.00 L364.14,547.00 L365.94,547.00 L367.73,547.00 L369.53,547.00 L371.32,547.00 L373.12,547.00 L374.91,547.00 L376.70,547.00 L378.50,547.00 L380.29,547.00 L382.09,547.00 L383.88,547.00 L385.68,547.00 L387.47,547.00 L389.26,547.00 L391.06,547.00 L392.85,547.00 L394.65,547.00 L396.44,547.00 L398.24,547.00 L400.03,547.00 L401.82,547.00 L403.62,547.00 L405.41,547.00 L407.21,547.00 L409.00,546.99 L410.79,546.99 L412.59,546.99 L414.38,546.99 L416.18,546.99 L417.97,546.99 L419.77,546.99 L421.56,546.99 L423.35,546.99 L425.15,546.98 L426.94,546.98 L428.74,546.98 L430.53,546.98 L432.33,546.97 L434.12,546.97 L435.91,546.97 L437.71,546.96 L439.50,546.96 L441.30,546.96 L443.09,546.95 L444.89,546.94 L446.68,546.94 L448.47,546.93 L450.27,546.92 L452.06,546.91 L453.86,546.90 L455.65,546.89 L457.45,546.87 L459.24,546.86 L461.03,546.84 L462.83,546.82 L464.62,546.80 L466.42,546.78 L468.21,546.75 L470.00,546.72 L471.80,546.68 L473.59,546.64 L475.39,546.60 L477.18,546.55 L478.98,546.50 L480.77,546.44 L482.56,546.37 L484.36,546.29 L486.15,546.20 L487.95,546.10 L489.74,546.00 L491.54,545.87 L493.33,545.74 L495.12,545.58 L496.92,545.41 L498.71,545.21 L500.51,545.00 L502.30,544.75 L504.10,544.48 L505.89,544.17 L507.68,543.83 L509.48,543.44 L511.27,543.01 L513.07,542.53 L514.86,541.99 L516.65,541.38 L518.45,540.70 L520.24,539.94 L522.04,539.10 L523.83,538.15 L525.63,537.09 L527.42,535.90 L529.21,534.58 L531.01,533.11 L532.80,531.46 L534.60,529.63 L536.39,527.60 L538.19,525.33 L539.98,522.82 L541.77,520.03 L543.57,516.94 L545.36,513.53 L547.16,509.76 L548.95,505.60 L550.75,501.04 L552.54,496.03 L554.33,490.54 L556.13,484.55 L557.92,478.04 L559.72,470.97 L561.51,463.33 L563.31,455.10 L565.10,446.28 L566.89,436.85 L568.69,426.83 L570.48,416.23 L572.28,405.08 L574.07,393.41 L575.86,381.26 L577.66,368.70 L579.45,355.79 L581.25,342.60 L583.04,329.22 L584.84,315.73 L586.63,302.22 L588.42,288.77 L590.22,275.49 L592.01,262.44 L593.81,249.72 L595.60,237.38 L597.40,225.49 L599.19,214.11 L600.98,203.26 L602.78,192.98 L604.57,183.29 L606.37,174.20 L608.16,165.70 L609.96,157.80 L611.75,150.48 L613.54,143.73 L615.34,137.51 L617.13,131.80 L618.93,126.59 L620.72,121.82 L622.51,117.49 L624.31,113.55 L626.10,109.99 L627.90,106.76 L629.69,103.84 L631.49,101.21 L633.28,98.83 L635.07,96.70 L636.87,94.78 L638.66,93.06 L640.46,91.51 L642.25,90.12 L644.05,88.88 L645.84,87.76 L647.63,86.77 L649.43,85.88 L651.22,85.08 L653.02,84.36 L654.81,83.73 L656.61,83.16 L658.40,82.65 L660.19,82.20 L661.99,81.79 L663.78,81.43 L665.58,81.11 L667.37,80.82 L669.16,80.56 L670.96,80.33 L672.75,80.13 L674.55,79.95 L676.34,79.79 L678.14,79.64 L679.93,79.51 L681.72,79.40 L683.52,79.29 L685.31,79.20 L687.11,79.12 L688.90,79.05 L690.70,78.98 L692.49,78.93 L694.28,78.88 L696.08,78.83 L697.87,78.79 L699.67,78.75 L701.46,78.72 L703.26,78.69 L705.05,78.67 L706.84,78.64 L708.64,78.62 L710.43,78.60 L712.23,78.59 L714.02,78.57 L715.82,78.56 L717.61,78.55 L719.40,78.54 L721.20,78.53 L722.99,78.52 L724.79,78.51 L726.58,78.51 L728.37,78.50 L730.17,78.50 L731.96,78.49 L733.76,78.49 L735.55,78.48 L737.35,78.48 L739.14,78.48 L740.93,78.48 L742.73,78.47 L744.52,78.47 L746.32,78.47 L748.11,78.47 L749.91,78.47 L751.70,78.47 L753.49,78.46 L755.29,78.46 L757.08,78.46 L758.88,78.46 L760.67,78.46 L762.47,78.46 L764.26,78.46 L766.05,78.46 L767.85,78.46 L769.64,78.46 L771.44,78.46 L773.23,78.46 L775.02,78.46 L776.82,78.46 L778.61,78.46 L780.41,78.46 L782.20,78.46 L784.00,78.46 L785.79,78.46 L787.58,78.46 L789.38,78.46 L791.17,78.46 L792.97,78.46 L794.76,78.46 L796.56,78.46 L798.35,78.46 L800.14,78.46 L801.94,78.45 L803.73,78.45 L805.53,78.45 L807.32,78.45 L809.12,78.45 L810.91,78.45 L812.70,78.45 L814.50,78.45 L816.29,78.45 L818.09,78.45 L819.88,78.45 L821.67,78.45 L823.47,78.45 L825.26,78.45 L827.06,78.45 L828.85,78.45 L830.65,78.45 L832.44,78.45 L834.23,78.45 L836.03,78.45 L837.82,78.45 L839.62,78.45 L841.41,78.45 L843.21,78.45 L845.00,78.45" stroke="#ffff00" stroke-dasharray="6.65,4.46,1.89,4.46"/>
<path d="M328.9,219.60 H400.15" stroke="#ffff00" stroke-dasharray="6.65,4.46,1.89,4.46"/>
<path d="M129.10,547.00 L130.89,547.00 L132.69,547.00 L134.48,547.00 L136.28,547.00 L138.07,547.00 L139.87,547.00 L141.66,547.00 L143.45,547.00 L145.25,547.00 L147.04,547.00 L148.84,547.00 L150.63,547.00 L152.43,547.00 L154.22,547.00 L156.01,547.00 L157.81,547.00 L159.60,547.00 L161.40,547.00 L163.19,547.00 L164.98,547.00 L166.78,547.00 L168.57,547.00 L170.37,547.00 L172.16,547.00 L173.96,547.00 L175.75,547.00 L177.54,547.00 L179.34,547.00 L181.13,547.00 L182.93,547.00 L184.72,547.00 L186.52,547.00 L188.31,547.00 L190.10,547.00 L191.90,547.00 L193.69,547.00 L195.49,547.00 L197.28,547.00 L199.08,547.00 L200.87,547.00 L202.66,547.00 L204.46,547.00 L206.25,547.00 L208.05,547.00 L209.84,547.00 L211.63,547.00 L213.43,547.00 L215.22,547.00 L217.02,547.00 L218.81,547.00 L220.61,547.00 L222.40,547.00 L224.19,547.00 L225.99,547.00 L227.78,547.00 L229.58,547.00 L231.37,547.00 L233.17,547.00 L234.96,547.00 L236.75,547.00 L238.55,547.00 L240.34,547.00 L242.14,547.00 L243.93,547.00 L245.73,547.00 L247.52,547.00 L249.31,547.00 L251.11,547.00 L252.90,547.00 L254.70,547.00 L256.49,547.00 L258.28,547.00 L260.08,547.00 L261.87,547.00 L263.67,547.00 L265.46,547.00 L267.26,547.00 L269.05,547.00 L270.84,547.00 L272.64,547.00 L274.43,547.00 L276.23,547.00 L278.02,547.00 L279.82,547.00 L281.61,547.00 L283.40,547.00 L285.20,547.00 L286.99,547.00 L288.79,547.00 L290.58,547.00 L292.38,547.00 L294.17,547.00 L295.96,547.00 L297.76,547.00 L299.55,547.00 L301.35,547.00 L303.14,547.00 L304.94,547.00 L306.73,547.00 L308.52,547.00 L310.32,547.00 L312.11,547.00 L313.91,547.00 L315.70,547.00 L317.49,547.00 L319.29,547.00 L321.08,547.00 L322.88,547.00 L324.67,547.00 L326.47,547.00 L328.26,547.00 L330.05,547.00 L331.85,547.00 L333.64,547.00 L335.44,547.00 L337.23,547.00 L339.03,547.00 L340.82,547.00 L342.61,547.00 L344.41,547.00 L346.20,547.00 L348.00,547.00 L349.79,547.00 L351.59,547.00 L353.38,547.00 L355.17,547.00 L356.97,547.00 L358.76,547.00 L360.56,547.00 L362.35,547.00 L364.14,547.00 L365.94,547.00 L367.73,547.00 L369.53,547.00 L371.32,547.00 L373.12,547.00 L374.91,547.00 L376.70,547.00 L378.50,547.00 L380.29,547.00 L382.09,547.00 L383.88,547.00 L385.68,547.00 L387.47,547.00 L389.26,547.00 L391.06,547.00 L392.85,547.00 L394.65,547.00 L396.44,547.00 L398.24,547.00 L400.03,547.00 L401.82,547.00 L403.62,547.00 L405.41,547.00 L407.21,547.00 L409.00,547.00 L410.79,547.00 L412.59,547.00 L414.38,547.00 L416.18,547.00 L417.97,547.00 L419.77,547.00 L421.56,547.00 L423.35,547.00 L425.15,547.00 L426.94,547.00 L428.74,547.00 L430.53,547.00 L432.33,547.00 L434.12,547.00 L435.91,547.00 L437.71,547.00 L439.50,547.00 L441.30,547.00 L443.09,547.00 L444.89,547.00 L446.68,547.00 L448.47,547.00 L450.27,547.00 L452.06,547.00 L453.86,547.00 L455.65,547.00 L457.45,547.00 L459.24,547.00 L461.03,547.00 L462.83,547.00 L464.62,547.00 L466.42,547.00 L468.21,547.00 L470.00,547.00 L471.80,547.00 L473.59,547.00 L475.39,547.00 L477.18,547.00 L478.98,547.00 L480.77,547.00 L482.56,547.00 L484.36,547.00 L486.15,547.00 L487.95,547.00 L489.74,547.00 L491.54,547.00 L493.33,547.00 L495.12,547.00 L496.92,547.00 L498.71,547.00 L500.51,547.00 L502.30,547.00 L504.10,547.00 L505.89,547.00 L507.68,547.00 L509.48,547.00 L511.27,547.00 L513.07,547.00 L514.86,547.00 L516.65,547.00 L518.45,547.00 L520.24,547.00 L522.04,547.00 L523.83,547.00 L525.63,547.00 L527.42,547.00 L529.21,547.00 L531.01,547.00 L532.80,546.99 L534.60,546.99 L536.39,546.99 L538.19,546.99 L539.98,546.99 L541.77,546.99 L543.57,546.99 L545.36,546.99 L547.16,546.99 L548.95,546.98 L550.75,546.98 L552.54,546.98 L554.33,546.98 L556.13,546.98 L557.92,546.97 L559.72,546.97 L561.51,546.97 L563.31,546.96 L565.10,546.96 L566.89,546.95 L568.69,546.95 L570.48,546.94 L572.28,546.93 L574.07,546.92 L575.86,546.91 L577.66,546.90 L579.45,546.89 L581.25,546.88 L583.04,546.86 L584.84,546.85 L586.63,546.83 L588.42,546.81 L590.22,546.79 L592.01,546.76 L593.81,546.73 L595.60,546.70 L597.40,546.66 L599.19,546.62 L600.98,546.57 L602.78,546.52 L604.57,546.46 L606.37,546.40 L608.16,546.32 L609.96,546.24 L611.75,546.15 L613.54,546.04 L615.34,545.92 L617.13,545.79 L618.93,545.65 L620.72,545.48 L622.51,545.29 L624.31,545.09 L626.10,544.85 L627.90,544.59 L629.69,544.30 L631.49,543.97 L633.28,543.60 L635.07,543.19 L636.87,542.73 L638.66,542.21 L640.46,541.63 L642.25,540.99 L644.05,540.26 L645.84,539.45 L647.63,538.54 L649.43,537.53 L651.22,536.40 L653.02,535.13 L654.81,533.72 L656.61,532.15 L658.40,530.40 L660.19,528.44 L661.99,526.28 L663.78,523.86 L665.58,521.19 L667.37,518.23 L669.16,514.95 L670.96,511.32 L672.75,507.33 L674.55,502.93 L676.34,498.10 L678.14,492.81 L679.93,487.03 L681.72,480.73 L683.52,473.89 L685.31,466.48 L687.11,458.49 L688.90,449.91 L690.70,440.73 L692.49,430.94 L694.28,420.58 L696.08,409.64 L697.87,398.18 L699.67,386.22 L701.46,373.82 L703.26,361.04 L705.05,347.95 L706.84,334.64 L708.64,321.18 L710.43,307.67 L712.23,294.18 L714.02,280.82 L715.82,267.67 L717.61,254.81 L719.40,242.31 L721.20,230.23 L722.99,218.64 L724.79,207.57 L726.58,197.06 L728.37,187.13 L730.17,177.79 L731.96,169.06 L733.76,160.92 L735.55,153.37 L737.35,146.39 L739.14,139.95 L740.93,134.05 L742.73,128.63 L744.52,123.69 L746.32,119.19 L748.11,115.10 L749.91,111.38 L751.70,108.02 L753.49,104.98 L755.29,102.24 L757.08,99.76 L758.88,97.53 L760.67,95.53 L762.47,93.73 L764.26,92.11 L766.05,90.66 L767.85,89.36 L769.64,88.20 L771.44,87.16 L773.23,86.22 L775.02,85.39 L776.82,84.64 L778.61,83.98 L780.41,83.38 L782.20,82.85 L784.00,82.37 L785.79,81.95 L787.58,81.57 L789.38,81.23 L791.17,80.93 L792.97,80.66 L794.76,80.42 L796.56,80.21 L798.35,80.02 L800.14,79.85 L801.94,79.70 L803.73,79.56 L805.53,79.44 L807.32,79.33 L809.12,79.24 L810.91,79.15 L812.70,79.08 L814.50,79.01 L816.29,78.95 L818.09,78.90 L819.88,78.85 L821.67,78.80 L823.47,78.77 L825.26,78.73 L827.06,78.70 L828.85,78.68 L830.65,78.65 L832.44,78.63 L834.23,78.61 L836.03,78.59 L837.82,78.58 L839.62,78.56 L841.41,78.55 L843.21,78.54 L845.00,78.53" stroke="#000000" stroke-dasharray="3.47,2.87,3.47,6.05"/>
<path d="M328.9,252.50 H400.15" stroke="#000000" stroke-dasharray="3.47,2.87,3.47,6.05"/>
<path d="M129.10,312.73 L845.00,312.73" stroke="#ff4d00" stroke-dasharray="3.47,2.87,3.47,2.87,3.47,6.05"/>
<path d="M328.9,285.40 H400.15" stroke="#ff4d00" stroke-dasharray="3.47,2.87,3.47,2.87,3.47,6.05"/>
</g>
<rect x="129.10" y="31.60" width="715.90" height="515.40" fill="none" stroke="#000" stroke-width="5.1"/>
<text transform="translate(99.98,555.90) scale(1,1.090)" class="s" style="font-size:25.40px">0</text>
<text transform="translate(78.79,509.05) scale(1,1.090)" class="s" style="font-size:25.40px">0</text><text transform="translate(92.92,509.05) scale(1,1.090)" class="s" style="font-size:25.40px">.</text><path transform="translate(99.98,509.05) scale(25.400,25.908)" d="M0.359,0 L0.271,0 L0.271,-0.505 L0.101,-0.505 L0.101,-0.568 C0.20,-0.572 0.275,-0.61 0.302,-0.703 L0.359,-0.703 Z" fill="#000"/>
<text transform="translate(78.79,462.19) scale(1,1.090)" class="s" style="font-size:25.40px">0</text><text transform="translate(92.92,462.19) scale(1,1.090)" class="s" style="font-size:25.40px">.</text><text transform="translate(99.98,462.19) scale(1,1.090)" class="s" style="font-size:25.40px">2</text>
<text transform="translate(78.79,415.34) scale(1,1.090)" class="s" style="font-size:25.40px">0</text><text transform="translate(92.92,415.34) scale(1,1.090)" class="s" style="font-size:25.40px">.</text><text transform="translate(99.98,415.34) scale(1,1.090)" class="s" style="font-size:25.40px">3</text>
<text transform="translate(78.79,368.48) scale(1,1.090)" class="s" style="font-size:25.40px">0</text><text transform="translate(92.92,368.48) scale(1,1.090)" class="s" style="font-size:25.40px">.</text><text transform="translate(99.98,368.48) scale(1,1.090)" class="s" style="font-size:25.40px">4</text>
<text transform="translate(78.79,321.63) scale(1,1.090)" class="s" style="font-size:25.40px">0</text><text transform="translate(92.92,321.63) scale(1,1.090)" class="s" style="font-size:25.40px">.</text><text transform="translate(99.98,321.63) scale(1,1.090)" class="s" style="font-size:25.40px">5</text>
<text transform="translate(78.79,274.77) scale(1,1.090)" class="s" style="font-size:25.40px">0</text><text transform="translate(92.92,274.77) scale(1,1.090)" class="s" style="font-size:25.40px">.</text><text transform="translate(99.98,274.77) scale(1,1.090)" class="s" style="font-size:25.40px">6</text>
<text transform="translate(78.79,227.92) scale(1,1.090)" class="s" style="font-size:25.40px">0</text><text transform="translate(92.92,227.92) scale(1,1.090)" class="s" style="font-size:25.40px">.</text><text transform="translate(99.98,227.92) scale(1,1.090)" class="s" style="font-size:25.40px">7</text>
<text transform="translate(78.79,181.06) scale(1,1.090)" class="s" style="font-size:25.40px">0</text><text transform="translate(92.92,181.06) scale(1,1.090)" class="s" style="font-size:25.40px">.</text><text transform="translate(99.98,181.06) scale(1,1.090)" class="s" style="font-size:25.40px">8</text>
<text transform="translate(78.79,134.21) scale(1,1.090)" class="s" style="font-size:25.40px">0</text><text transform="translate(92.92,134.21) scale(1,1.090)" class="s" style="font-size:25.40px">.</text><text transform="translate(99.98,134.21) scale(1,1.090)" class="s" style="font-size:25.40px">9</text>
<path transform="translate(99.98,86.95) scale(25.400,25.908)" d="M0.359,0 L0.271,0 L0.271,-0.505 L0.101,-0.505 L0.101,-0.568 C0.20,-0.572 0.275,-0.61 0.302,-0.703 L0.359,-0.703 Z" fill="#000"/>
<path transform="translate(78.79,39.80) scale(25.400,25.908)" d="M0.359,0 L0.271,0 L0.271,-0.505 L0.101,-0.505 L0.101,-0.568 C0.20,-0.572 0.275,-0.61 0.302,-0.703 L0.359,-0.703 Z" fill="#000"/><text transform="translate(92.92,39.80) scale(1,1.090)" class="s" style="font-size:25.40px">.</text><path transform="translate(99.98,39.80) scale(25.400,25.908)" d="M0.359,0 L0.271,0 L0.271,-0.505 L0.101,-0.505 L0.101,-0.568 C0.20,-0.572 0.275,-0.61 0.302,-0.703 L0.359,-0.703 Z" fill="#000"/>
<path transform="translate(109.35,583.50) scale(25.400,25.908)" d="M0.359,0 L0.271,0 L0.271,-0.505 L0.101,-0.505 L0.101,-0.568 C0.20,-0.572 0.275,-0.61 0.302,-0.703 L0.359,-0.703 Z" fill="#000"/><text transform="translate(123.47,583.50) scale(1,1.090)" class="s" style="font-size:25.40px">0</text>
<text transform="translate(137.10,571.20) scale(1,1.090)" class="s" style="font-size:21.32px">3</text>
<path transform="translate(252.53,583.50) scale(25.400,25.908)" d="M0.359,0 L0.271,0 L0.271,-0.505 L0.101,-0.505 L0.101,-0.568 C0.20,-0.572 0.275,-0.61 0.302,-0.703 L0.359,-0.703 Z" fill="#000"/><text transform="translate(266.65,583.50) scale(1,1.090)" class="s" style="font-size:25.40px">0</text>
<text transform="translate(280.28,571.20) scale(1,1.090)" class="s" style="font-size:21.32px">4</text>
<path transform="translate(395.71,583.50) scale(25.400,25.908)" d="M0.359,0 L0.271,0 L0.271,-0.505 L0.101,-0.505 L0.101,-0.568 C0.20,-0.572 0.275,-0.61 0.302,-0.703 L0.359,-0.703 Z" fill="#000"/><text transform="translate(409.83,583.50) scale(1,1.090)" class="s" style="font-size:25.40px">0</text>
<text transform="translate(423.46,571.20) scale(1,1.090)" class="s" style="font-size:21.32px">5</text>
<path transform="translate(538.89,583.50) scale(25.400,25.908)" d="M0.359,0 L0.271,0 L0.271,-0.505 L0.101,-0.505 L0.101,-0.568 C0.20,-0.572 0.275,-0.61 0.302,-0.703 L0.359,-0.703 Z" fill="#000"/><text transform="translate(553.01,583.50) scale(1,1.090)" class="s" style="font-size:25.40px">0</text>
<text transform="translate(566.64,571.20) scale(1,1.090)" class="s" style="font-size:21.32px">6</text>
<path transform="translate(682.07,583.50) scale(25.400,25.908)" d="M0.359,0 L0.271,0 L0.271,-0.505 L0.101,-0.505 L0.101,-0.568 C0.20,-0.572 0.275,-0.61 0.302,-0.703 L0.359,-0.703 Z" fill="#000"/><text transform="translate(696.19,583.50) scale(1,1.090)" class="s" style="font-size:25.40px">0</text>
<text transform="translate(709.82,571.20) scale(1,1.090)" class="s" style="font-size:21.32px">7</text>
<path transform="translate(825.25,583.50) scale(25.400,25.908)" d="M0.359,0 L0.271,0 L0.271,-0.505 L0.101,-0.505 L0.101,-0.568 C0.20,-0.572 0.275,-0.61 0.302,-0.703 L0.359,-0.703 Z" fill="#000"/><text transform="translate(839.37,583.50) scale(1,1.090)" class="s" style="font-size:25.40px">0</text>
<text transform="translate(853.00,571.20) scale(1,1.090)" class="s" style="font-size:21.32px">8</text>
<text transform="translate(487.00,619.00) scale(1,1.000)" text-anchor="middle" class="s">colony forming units (CFU)/volume</text>
<text transform="translate(314.70,63.90) scale(1,1.035)" text-anchor="end" class="s">WT</text>
<text transform="translate(313.60,96.30) scale(1,1.000)" text-anchor="end" class="i">luxN</text>
<text transform="translate(313.60,129.20) scale(1,1.000)" text-anchor="end" class="i">luxQ</text>
<text transform="translate(313.60,159.50) scale(1,1.000)" text-anchor="end" class="i">cqsS<tspan dy="7.6" style="font-size:20.3px">Vh</tspan></text>
<text transform="translate(313.60,195.00) scale(1,1.000)" text-anchor="end" class="i">luxN luxQ</text>
<text transform="translate(313.60,225.30) scale(1,1.000)" text-anchor="end" class="i">luxQ cqsS<tspan dy="7.6" style="font-size:20.3px">Vh</tspan></text>
<text transform="translate(313.60,258.20) scale(1,1.000)" text-anchor="end" class="i">luxN cqsS<tspan dy="7.6" style="font-size:20.3px">Vh</tspan></text>
<g transform="translate(291.40,296.10) scale(25.400)" fill="none" stroke="#000" stroke-linecap="round"><path d="M-0.100,0.160 C-0.06,0.225 0.01,0.215 0.04,0.10 C0.07,-0.02 0.13,-0.30 0.16,-0.43 C0.19,-0.56 0.23,-0.68 0.32,-0.672 C0.37,-0.668 0.395,-0.645 0.400,-0.615" stroke-width="0.038"/><path d="M0.035,0.12 C0.07,-0.02 0.13,-0.30 0.16,-0.43 C0.175,-0.50 0.19,-0.55 0.21,-0.59" stroke-width="0.070"/><path d="M0.045,-0.427 H0.325" stroke-width="0.036" stroke-linecap="butt"/><circle cx="-0.105" cy="0.150" r="0.043" fill="#000" stroke="none"/><circle cx="0.398" cy="-0.612" r="0.043" fill="#000" stroke="none"/></g>
<text transform="translate(313.60,283.80) scale(1,1.000)" text-anchor="end" class="i" style="font-size:20.3px">c</text>
<g transform="translate(31.30,317.10) rotate(-90) scale(25.400)" fill="none" stroke="#000" stroke-linecap="round"><path d="M-0.100,0.160 C-0.06,0.225 0.01,0.215 0.04,0.10 C0.07,-0.02 0.13,-0.30 0.16,-0.43 C0.19,-0.56 0.23,-0.68 0.32,-0.672 C0.37,-0.668 0.395,-0.645 0.400,-0.615" stroke-width="0.038"/><path d="M0.035,0.12 C0.07,-0.02 0.13,-0.30 0.16,-0.43 C0.175,-0.50 0.19,-0.55 0.21,-0.59" stroke-width="0.070"/><path d="M0.045,-0.427 H0.325" stroke-width="0.036" stroke-linecap="butt"/><circle cx="-0.105" cy="0.150" r="0.043" fill="#000" stroke="none"/><circle cx="0.398" cy="-0.612" r="0.043" fill="#000" stroke="none"/></g>
<text transform="translate(39.4,310.3) rotate(-90) scale(1,1.055)" class="s" style="font-size:20.8px">LuxO</text>
</svg>
</body></html>
